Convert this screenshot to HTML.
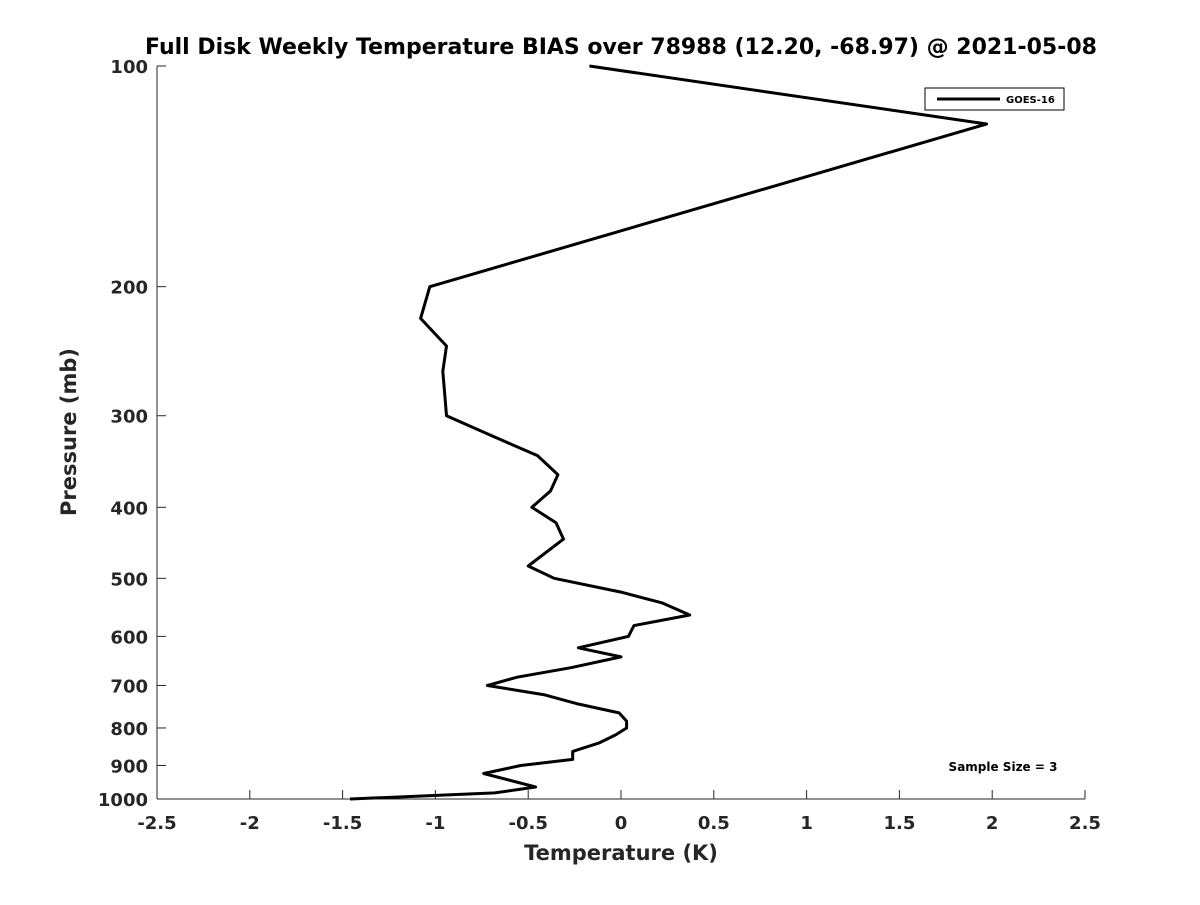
<!DOCTYPE html>
<html><head><meta charset="utf-8"><style>
body{margin:0;background:#fff}
svg text{font-family:"DejaVu Sans","Liberation Sans",sans-serif;font-weight:bold;fill:#262626}
</style></head><body>
<svg id="chart" width="1200" height="900" xmlns="http://www.w3.org/2000/svg">
<rect width="1200" height="900" fill="#fff"/>
<text x="621" y="54" text-anchor="middle" font-size="22" style="fill:#000">Full Disk Weekly Temperature BIAS over 78988 (12.20, -68.97) @ 2021-05-08</text>
<g id="axes"></g>
<path id="series" fill="none" stroke="#000" stroke-width="3" stroke-linejoin="round"/>
<g>
<rect x="925" y="88" width="139" height="22" fill="#fff" stroke="#000" stroke-width="1"/>
<line x1="937" y1="99" x2="1000" y2="99" stroke="#000" stroke-width="3"/>
<text x="1006" y="103" font-size="10" style="fill:#000">GOES-16</text>
</g>
<text x="1003" y="771" text-anchor="middle" font-size="12" style="fill:#000">Sample Size = 3</text>
<text x="621" y="860" text-anchor="middle" font-size="21">Temperature (K)</text>
<text transform="translate(76,432) rotate(-90)" text-anchor="middle" font-size="21">Pressure (mb)</text>
</svg>
<script>
const pressures=[100,120,200,221,241,261,280,300,320,340,361,380,400,420,442,481,500,522,540,561,580,600,622,640,662,682,700,721,741,763,783,800,818,839,861,883,900,923,963,981,1000];
const temps=[-0.17,1.97,-1.03,-1.08,-0.94,-0.96,-0.95,-0.94,-0.69,-0.45,-0.34,-0.38,-0.48,-0.35,-0.31,-0.50,-0.36,0,0.22,0.37,0.07,0.04,-0.23,0.0,-0.27,-0.56,-0.72,-0.41,-0.24,-0.01,0.03,0.03,-0.03,-0.12,-0.26,-0.26,-0.54,-0.74,-0.46,-0.68,-1.46];
const xTicks=[-2.5,-2,-1.5,-1,-0.5,0,0.5,1,1.5,2,2.5];
const yTicks=[100,200,300,400,500,600,700,800,900,1000];
const L=157,R=1085,T=66,B=799;
const sx=v=>L+(v+2.5)/5*(R-L);
const sy=p=>T+Math.log10(p/100)*(B-T);
const ns="http://www.w3.org/2000/svg";
const ax=document.getElementById('axes');
function mk(t,a){const e=document.createElementNS(ns,t);for(const k in a)e.setAttribute(k,a[k]);ax.appendChild(e);return e;}
const xl=mk('line',{x1:L,y1:B,x2:R,y2:B,stroke:'#262626','stroke-width':1});


const yl=mk('line',{x1:L,y1:T,x2:L,y2:B,stroke:'#262626','stroke-width':1});


xTicks.forEach(v=>{
 mk('line',{x1:sx(v),y1:B,x2:sx(v),y2:B-9,stroke:'#262626'});
 const t=mk('text',{x:sx(v),y:B+30,'text-anchor':'middle','font-size':18});
 t.textContent=String(v);
 
 
});
yTicks.forEach(p=>{
 mk('line',{x1:L,y1:sy(p),x2:L+9,y2:sy(p),stroke:'#262626'});
 const t=mk('text',{x:L-9,y:sy(p)+7,'text-anchor':'end','font-size':18});
 t.textContent=String(p);
 
 
});
document.getElementById('series').setAttribute('d',pressures.map((p,i)=>(i?'L':'M')+sx(temps[i]).toFixed(1)+','+sy(p).toFixed(1)).join(''));
</script>
</body></html>
